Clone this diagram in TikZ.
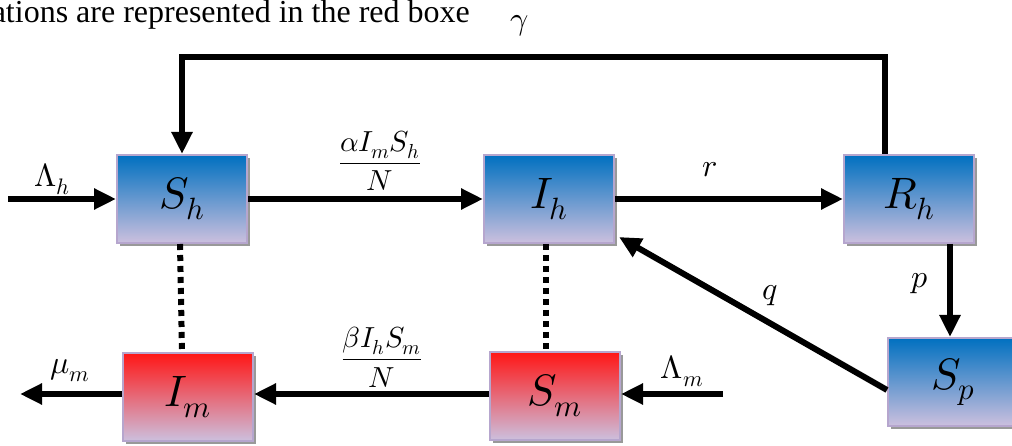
\documentclass[tikz,border=0pt]{standalone}
\usepackage{amsmath}
\usepackage{fontspec}
\usepackage{unicode-math}
\setmainfont{Liberation Serif}
\usetikzlibrary{arrows.meta,shadows,positioning}
\definecolor{colHUM}{RGB}{0,112,192}
\definecolor{colMOS}{RGB}{255,22,22}
\definecolor{colLOW}{RGB}{204,192,222}
\definecolor{colEDGE}{RGB}{182,166,206}

\begin{document}
\begin{tikzpicture}[x=1pt, y=-1pt,
    comp/.style={draw=colEDGE, line width=2pt, minimum width=130pt, minimum height=88pt,
      inner sep=0pt, bottom color=colLOW, font=\fontsize{44}{48}\selectfont,
      drop shadow={shadow xshift=3pt, shadow yshift=-3pt, fill=black!40, opacity=1}},
    human/.style={comp, top color=colHUM},
    mosq/.style={comp, top color=colMOS},
    flow/.style={line width=6pt, -{Triangle[length=22pt, width=20pt]}},
    link/.style={line width=6pt, dash pattern=on 6pt off 5pt},
    lbl/.style={font=\fontsize{32}{36}\selectfont},
    frac/.style={font=\fontsize{29}{34}\selectfont}]
  \clip (0,0) rectangle (1012,446);
  \useasboundingbox (0,0) rectangle (1012,446);
  % caption line cut at the top
  \node[anchor=base east, inner sep=0pt, font=\fontsize{32}{35}\selectfont] (cap) at (470,23)
    {ations are represented in the red boxe};
  % compartments
  \node[human] (Sh) at (182,199) {$S_h$};
  \node[human] (Ih) at (549,199) {$I_h$};
  \node[human] (Rh) at (909,199) {$R_h$};
  \node[human] (Sp) at (953,382) {$S_p$};
  \node[mosq] (Im) at (188,397) {$I_m$};
  \node[mosq] (Sm) at (555,396) {$S_m$};
  % free ends
  \coordinate (inH) at (8,199);
  \coordinate (inM) at (723,394);
  \coordinate (outM) at (20,394);
  \coordinate (top) at (0,57);
  % host flows
  \draw[flow] (inH) -- (Sh.west);
  \node[lbl] (lamH) at (52,179) {$\Lambda_h$};
  \draw[flow] (Sh.east) -- (Ih.west);
  \node[frac] (infH) at (380,161) {$\dfrac{\alpha I_m S_h}{N}$};
  \draw[flow] (Ih.east) -- (Rh.west);
  \node[lbl] (rr) at (710,170) {$r$};
  \draw[flow] ([xshift=-24pt]Rh.north) |- (top -| Sh.north) -- (Sh.north);
  \node[lbl] (gam) at (520,26) {$\gamma$};
  \draw[flow] ([xshift=41pt]Rh.south) -- ([xshift=-3pt]Sp.north);
  \node[lbl] (pp) at (920,284) {$p$};
  \draw[flow] ([yshift=-8pt]Sp.west) -- ([shift={(4pt,7pt)}]Ih.south east);
  \node[lbl] (qq) at (770,296) {$q$};
  % vector flows
  \draw[flow] (inM) -- (Sm.east |- inM);
  \node[lbl] (lamM) at (682,371) {$\Lambda_m$};
  \draw[flow] (Sm.west |- inM) -- (Im.east |- inM);
  \node[frac] (infM) at (382,357) {$\dfrac{\beta I_h S_m}{N}$};
  \draw[flow] (Im.west |- outM) -- (outM);
  \node[lbl] (muM) at (70,371) {$\mu_m$};
  % host-vector pairing
  \draw[link] ([xshift=-2pt]Sh.south) -- (Sh.south |- Im.north);
  \draw[link] ([xshift=-3pt]Ih.south) -- ([xshift=-9pt]Sm.north);
\end{tikzpicture}
\end{document}
